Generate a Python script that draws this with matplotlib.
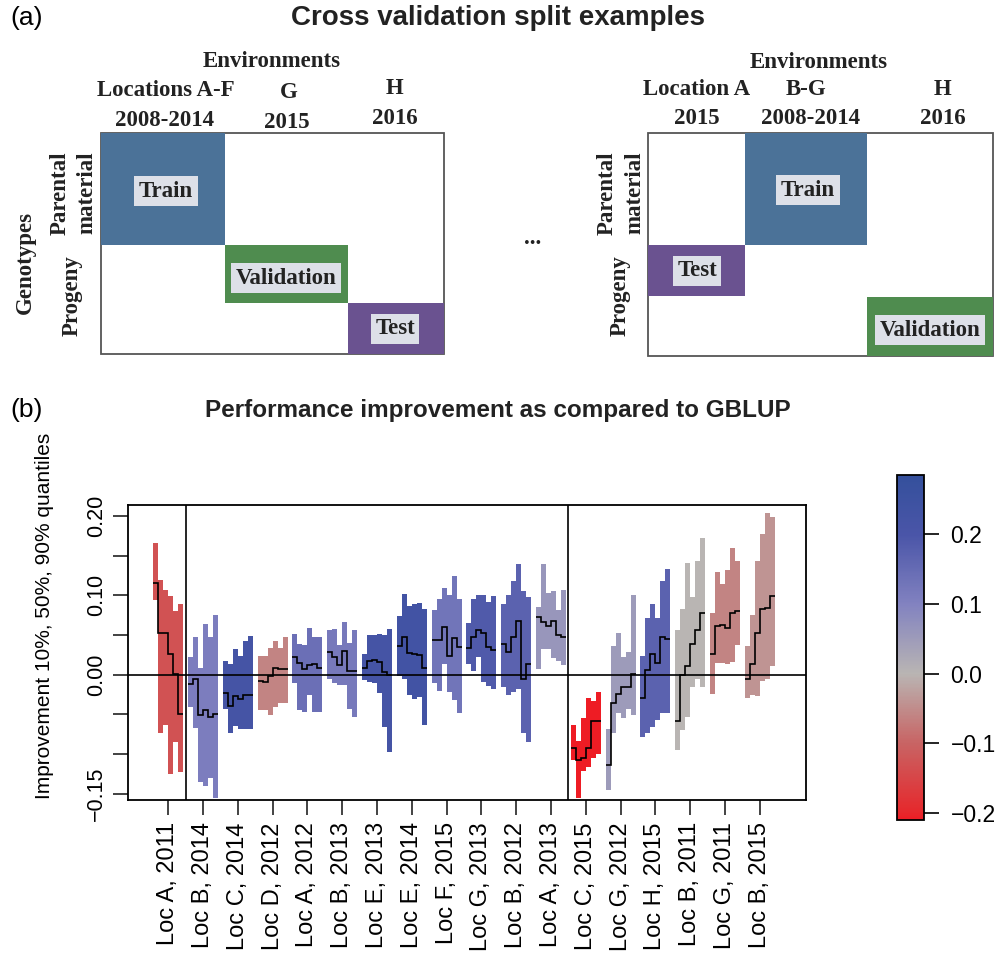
import numpy as np
import matplotlib
matplotlib.use("Agg")
import matplotlib.pyplot as plt
from matplotlib.colors import LinearSegmentedColormap, Normalize
from matplotlib.cm import ScalarMappable
from matplotlib.patches import Rectangle

plt.rcParams['font.family'] = ['Liberation Sans', 'DejaVu Sans']

# ---- panel (b) data: 18 environments, 6 steps each ----
labels = ["Loc A, 2011", "Loc B, 2014", "Loc C, 2014", "Loc D, 2012", "Loc A, 2012",
          "Loc B, 2013", "Loc E, 2013", "Loc E, 2014", "Loc F, 2015", "Loc G, 2013",
          "Loc B, 2012", "Loc A, 2013", "Loc C, 2015", "Loc G, 2012", "Loc H, 2015",
          "Loc B, 2011", "Loc G, 2011", "Loc B, 2015"]

q90 = [[0.166, 0.119, 0.107, 0.099, 0.080, 0.089],
       [0.022, 0.047, 0.008, 0.064, 0.047, 0.075],
       [0.017, 0.013, 0.032, 0.024, 0.042, 0.049],
       [0.023, 0.023, 0.034, 0.042, 0.034, 0.048],
       [0.051, 0.039, 0.038, 0.059, 0.047, 0.047],
       [0.056, 0.058, 0.037, 0.066, 0.040, 0.056],
       [0.026, 0.050, 0.050, 0.051, 0.050, 0.058],
       [0.074, 0.102, 0.087, 0.089, 0.090, 0.083],
       [0.082, 0.095, 0.109, 0.101, 0.124, 0.095],
       [0.065, 0.096, 0.101, 0.100, 0.092, 0.099],
       [0.089, 0.101, 0.118, 0.139, 0.105, 0.098],
       [0.086, 0.140, 0.103, 0.106, 0.082, 0.107],
       [-0.063, -0.084, -0.055, -0.030, -0.033, -0.022],
       [-0.068, 0.036, 0.052, 0.022, 0.029, 0.100],
       [0.023, 0.071, 0.089, 0.072, 0.118, 0.133],
       [0.057, 0.083, 0.141, 0.098, 0.144, 0.173],
       [0.078, 0.129, 0.115, 0.132, 0.160, 0.143],
       [0.036, 0.075, 0.144, 0.178, 0.204, 0.199]]

q50 = [[0.116, 0.053, 0.053, 0.026, 0.001, -0.049],
       [-0.012, -0.005, -0.051, -0.045, -0.053, -0.050],
       [-0.023, -0.040, -0.027, -0.031, -0.025, -0.025],
       [-0.008, -0.009, -0.002, 0.008, 0.007, 0.007],
       [0.022, 0.015, 0.007, 0.012, 0.014, 0.009],
       [0.029, 0.022, 0.012, 0.030, 0.005, 0.005],
       [0.008, 0.017, 0.018, 0.016, 0.003, -0.001],
       [0.036, 0.048, 0.028, 0.026, 0.025, 0.008],
       [0.044, 0.044, 0.060, 0.024, 0.046, 0.035],
       [0.034, 0.047, 0.057, 0.052, 0.035, 0.031],
       [0.039, 0.029, 0.048, 0.068, -0.005, 0.013],
       [0.073, 0.066, 0.061, 0.068, 0.050, 0.047],
       [-0.093, -0.107, -0.105, -0.093, -0.058, -0.058],
       [-0.114, -0.036, -0.024, -0.016, -0.015, 0.001],
       [-0.029, 0.006, 0.026, 0.015, 0.047, 0.045],
       [-0.059, 0.000, 0.011, 0.039, 0.057, 0.078],
       [0.026, 0.062, 0.063, 0.059, 0.078, 0.080],
       [-0.005, 0.013, 0.052, 0.083, 0.084, 0.099]]

q10 = [[0.094, -0.073, -0.064, -0.125, -0.085, -0.123],
       [-0.041, -0.067, -0.135, -0.140, -0.130, -0.156],
       [-0.043, -0.074, -0.065, -0.069, -0.068, -0.068],
       [-0.044, -0.044, -0.051, -0.041, -0.036, -0.036],
       [-0.011, -0.044, -0.047, -0.026, -0.047, -0.047],
       [-0.005, -0.010, -0.013, -0.013, -0.043, -0.053],
       [-0.007, -0.009, -0.010, -0.023, -0.066, -0.097],
       [-0.002, -0.005, -0.025, -0.031, -0.028, -0.063],
       [-0.010, -0.021, 0.013, -0.022, -0.032, -0.048],
       [0.014, 0.005, 0.022, -0.009, -0.014, -0.018],
       [-0.016, -0.026, -0.022, -0.018, -0.073, -0.085],
       [0.007, 0.032, 0.032, 0.021, 0.017, 0.012],
       [-0.108, -0.156, -0.121, -0.116, -0.105, -0.100],
       [-0.145, -0.073, -0.048, -0.055, -0.043, -0.051],
       [-0.079, -0.073, -0.066, -0.057, -0.048, -0.048],
       [-0.095, -0.070, -0.053, -0.016, -0.005, -0.016],
       [-0.024, 0.015, 0.015, 0.014, 0.016, 0.038],
       [-0.030, -0.026, -0.027, -0.008, -0.006, 0.011]]

# colour value of each environment
group_score = [-0.13, 0.11, 0.22, -0.06, 0.14, 0.12, 0.22, 0.23, 0.13, 0.19,
               0.17, 0.06, -0.21, 0.05, 0.17, 0.0, -0.06, -0.04]

cb_vals = [-0.21, -0.2, -0.1, 0.0, 0.1, 0.2, 0.285]
cb_cols = ['#ee1c24', '#e6282c', '#c86464', '#b9b5b3', '#8282c0', '#4a55a8', '#34509c']

vmin, vmax = cb_vals[0], cb_vals[-1]
cmap = LinearSegmentedColormap.from_list(
    'rgb', [((v - vmin) / (vmax - vmin), c) for v, c in zip(cb_vals, cb_cols)])
norm = Normalize(vmin, vmax)

W, H = 1001, 956
fig = plt.figure(figsize=(W / 100, H / 100), dpi=100)

# ---- panel (a): schematic drawn in pixel coordinates ----
ax0 = fig.add_axes([0, 0, 1, 1])
ax0.set_xlim(0, W)
ax0.set_ylim(H, 0)
ax0.axis('off')

serif = dict(family='Liberation Serif', weight='bold', fontsize=16.5, color='#222222')
box_kw = dict(boxstyle='square,pad=0.2', fc='#dde0e8', ec='none')

ax0.text(10, 18, '(a)', fontsize=19, va='center', ha='left')
ax0.text(498, 18, 'Cross validation split examples', fontsize=20, weight='bold',
         ha='center', va='center', color='#222222')

diagrams = [
    dict(frame=(101, 133, 444, 354),
         blocks=[('Train', (101, 133, 225, 245), '#4b7298', (166, 191)),
                 ('Validation', (225, 245, 348, 303), '#4f8c4f', (286, 278)),
                 ('Test', (348, 303, 444, 354), '#6a5290', (395, 329))],
         env=(272, 61),
         heads=[('Locations A-F', 166, 90), ('2008-2014', 165, 120), ('G', 289, 92),
                ('2015', 287, 122), ('H', 395, 88), ('2016', 395, 118)],
         rows=[('Parental', 60, 193), ('material', 87, 193), ('Progeny', 72, 296),
               ('Genotypes', 25, 262)]),
    dict(frame=(648, 133, 993, 356),
         blocks=[('Test', (648, 245, 745, 296), '#6a5290', (697, 271)),
                 ('Train', (745, 133, 867, 245), '#4b7298', (808, 190)),
                 ('Validation', (867, 297, 993, 356), '#4f8c4f', (930, 330))],
         env=(819, 62),
         heads=[('Location A', 697, 89), ('2015', 697, 118), ('B-G', 806, 89),
                ('2008-2014', 811, 118), ('H', 943, 89), ('2016', 943, 118)],
         rows=[('Parental', 607, 193), ('material', 635, 193), ('Progeny', 620, 296)]),
]

for d in diagrams:
    x0, y0, x1, y1 = d['frame']
    ax0.add_patch(Rectangle((x0, y0), x1 - x0, y1 - y0, fill=False, ec='#555555', lw=1.3))
    for name, (bx0, by0, bx1, by1), col, (tx, ty) in d['blocks']:
        ax0.add_patch(Rectangle((bx0, by0), bx1 - bx0, by1 - by0, fc=col, ec='none'))
        ax0.text(tx, ty, name, ha='center', va='center', bbox=box_kw, **serif)
    ax0.text(d['env'][0], d['env'][1], 'Environments', ha='center', va='center', **serif)
    for t, x, y in d['heads']:
        ax0.text(x, y, t, ha='center', va='center', **serif)
    for t, x, y in d['rows']:
        ax0.text(x, y, t, ha='center', va='center', rotation=90, **serif)

ax0.text(533, 238, '...', ha='center', va='center', **serif)

ax0.text(10, 410, '(b)', fontsize=19, va='center', ha='left')
ax0.text(498, 410, 'Performance improvement as compared to GBLUP', fontsize=17.5,
         weight='bold', ha='center', va='center', color='#222222')
ax0.text(45, 616, 'Improvement 10%, 50%, 90% quantiles', fontsize=15, rotation=90,
         ha='center', va='center')

# ---- panel (b) plot ----
ax = fig.add_axes([128 / W, 1 - 800 / H, 678 / W, 295 / H])
n_steps = 6
gw = 30 / 34.8
for i in range(len(labels)):
    pos = i + 1
    edges = np.linspace(pos - gw / 2, pos + gw / 2, n_steps + 1)
    col = cmap(norm(group_score[i]))
    ax.stairs(q90[i], edges, baseline=q10[i], fill=True, color=col, lw=0)
    ax.stairs(q50[i], edges, baseline=None, color='black', lw=1.2)

ax.axhline(0, color='black', lw=1.2)
ax.axvline(1.5, color='black', lw=1.2)
ax.axvline(12.5, color='black', lw=1.2)

ax.set_xlim(-0.158, 19.325)
ax.set_ylim(-0.158, 0.214)
ax.set_xticks(range(1, len(labels) + 1))
ax.set_xticklabels(labels, rotation=90, fontsize=17)
yt = [0.20, 0.15, 0.10, 0.05, 0.00, -0.05, -0.10, -0.15]
ytl = ['0.20', '', '0.10', '', '0.00', '', '', '\u22120.15']
ax.set_yticks(yt)
ax.set_yticklabels(ytl, fontsize=15.5)
for t in ax.get_yticklabels():
    t.set_rotation(90)
    t.set_va('center')
ax.tick_params(length=11, width=1.2, pad=4, color='#222222')
ax.tick_params(axis='x', pad=5)
for s in ax.spines.values():
    s.set_linewidth(1.3)

# colour bar
cax = fig.add_axes([897 / W, 1 - 820 / H, 27 / W, 345 / H])
cb = fig.colorbar(ScalarMappable(norm=norm, cmap=cmap), cax=cax,
                  ticks=[-0.2, -0.1, 0.0, 0.1, 0.2])
cb.ax.set_yticklabels(['\u22120.2', '\u22120.1', '0.0', '0.1', '0.2'], fontsize=16.5)
cb.ax.tick_params(length=11, width=1.2, pad=8)
cb.outline.set_linewidth(1.3)

fig.savefig('out.png', dpi=100)
